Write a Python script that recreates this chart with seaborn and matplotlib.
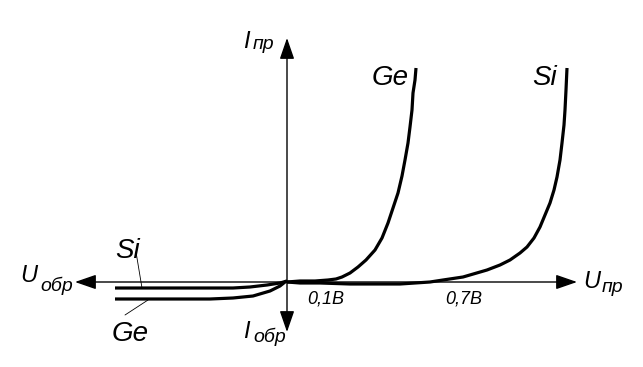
import numpy as np
import pandas as pd
import matplotlib
matplotlib.use('Agg')
import matplotlib.pyplot as plt
import seaborn as sns

# schematic units (origin = axis crossing)
ge_fwd_u = [0, 13, 28, 41, 49, 55, 63, 71, 79, 88, 95, 101, 106, 111, 115, 118, 121, 123, 125, 126, 128, 129]
ge_fwd_i = [0, 1, 1, 2, 3, 5, 9, 15, 22, 32, 44, 59, 74, 89, 106, 122, 139, 155, 172, 189, 202, 214]

si_fwd_u = [0, 13, 33, 63, 113, 143, 156, 176, 200, 213, 223, 233, 240, 247, 253, 258, 263, 267, 270, 273, 275, 277, 278, 279, 280]
si_fwd_i = [0, -1, -1, -2, -2, 0, 2, 5, 12, 17, 22, 29, 35, 44, 55, 67, 79, 92, 105, 122, 139, 157, 172, 192, 214]

si_rev_u = [-172, -54, -37, -20, -7, 0]
si_rev_i = [-6, -6, -5, -3, -1, 1]

ge_rev_u = [-172, -77, -54, -34, -17, -7, -2, 0]
ge_rev_i = [-17, -17, -16, -14, -9, -4, 0, 1]

tick_labels = ['0,1В', '0,7В']

sns.set_theme(style='white')
plt.rcParams['font.family'] = ['Liberation Sans', 'DejaVu Sans']

fig = plt.figure(figsize=(6.43, 3.67), dpi=100)
ax = fig.add_axes([0, 0, 1, 1])
ax.set_xlim(-287, 356)
ax.set_ylim(-85, 282)
ax.axis('off')

# coordinate axes with arrow heads
arrow = dict(arrowstyle='-|>,head_length=1.3,head_width=0.45', mutation_scale=10,
             lw=1.0, color='black', shrinkA=0, shrinkB=0)
for tip in [(-212, 0), (290, 0), (0, 244), (0, -50)]:
    ax.annotate('', xy=tip, xytext=(0, 0), arrowprops=arrow)

curves = [(ge_fwd_u, ge_fwd_i), (si_fwd_u, si_fwd_i), (si_rev_u, si_rev_i), (ge_rev_u, ge_rev_i)]
for u, i in curves:
    df = pd.DataFrame({'U': u, 'I': i})
    sns.lineplot(data=df, x='U', y='I', sort=False, estimator=None, ax=ax,
                 color='black', lw=2.3, solid_capstyle='butt')

# leader lines for reverse branch labels
ax.plot([-151, -145], [30, -6], color='black', lw=0.6)
ax.plot([-162, -139], [-33, -18], color='black', lw=0.6)

it = dict(style='italic', color='black')
# axis names
ax.text(-44, 234, 'I', fontsize=17, ha='left', va='baseline', **it)
ax.text(-34, 233, 'пр', fontsize=14, ha='left', va='baseline', **it)
ax.text(-44, -56, 'I', fontsize=17, ha='left', va='baseline', **it)
ax.text(-34, -60, 'обр', fontsize=14, ha='left', va='baseline', **it)
ax.text(-267, 0, 'U', fontsize=17, ha='left', va='baseline', **it)
ax.text(-247, -9, 'обр', fontsize=14, ha='left', va='baseline', **it)
ax.text(296, -6, 'U', fontsize=17, ha='left', va='baseline', **it)
ax.text(315, -10, 'пр', fontsize=14, ha='left', va='baseline', **it)

# curve labels
ax.text(103, 197, 'Ge', fontsize=20, ha='center', va='baseline', **it)
ax.text(258, 197, 'Si', fontsize=20, ha='center', va='baseline', **it)
ax.text(-159, 24, 'Si', fontsize=20, ha='center', va='baseline', **it)
ax.text(-157, -59, 'Ge', fontsize=20, ha='center', va='baseline', **it)

# voltage marks
ax.text(20, -21, tick_labels[0], fontsize=13, ha='left', va='baseline', **it)
ax.text(158, -21, tick_labels[1], fontsize=13, ha='left', va='baseline', **it)

fig.savefig('out.png', dpi=100, facecolor='white')
